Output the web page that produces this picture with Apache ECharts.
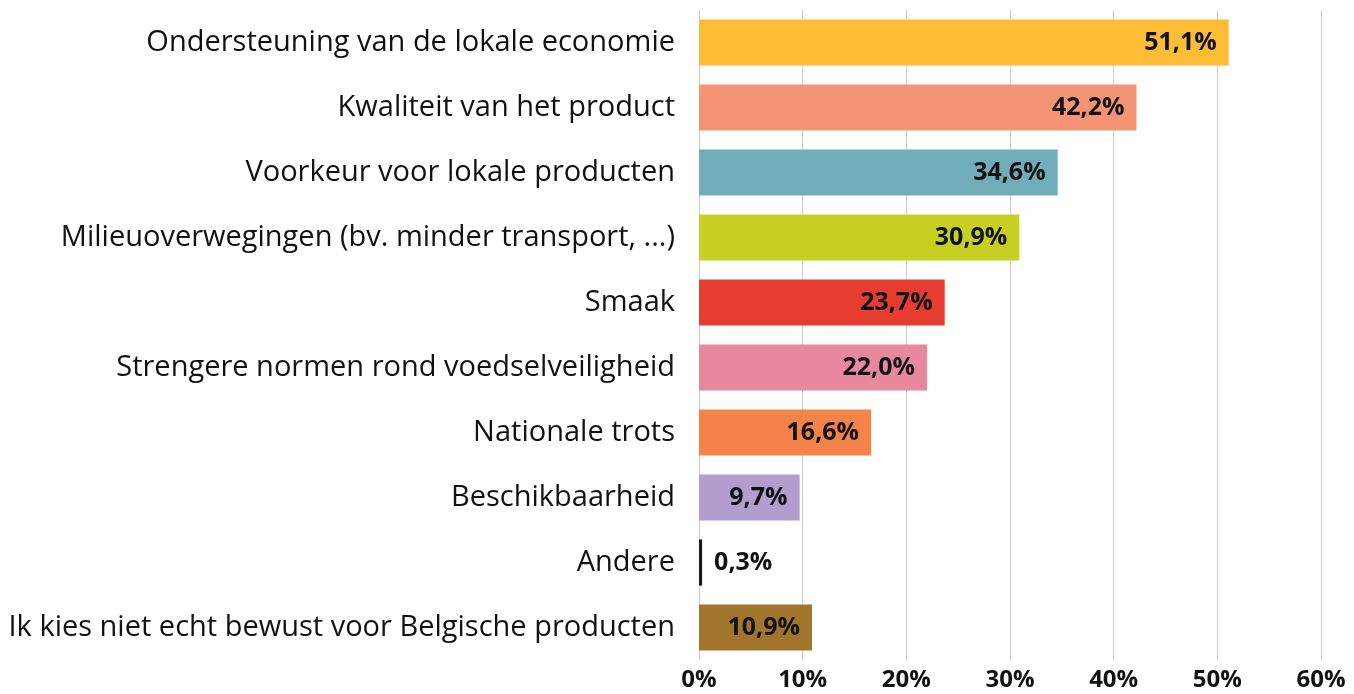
<!DOCTYPE html>
<html>
<head>
<meta charset="utf-8">
<script src="https://cdn.jsdelivr.net/npm/echarts@6/dist/echarts.min.js"></script>
<style>
  html, body { margin: 0; padding: 0; background: #fff; }
  #chart { width: 1354px; height: 694px; }
</style>
</head>
<body>
<div id="chart"></div>
<script>
// categories top to bottom
const categories = [
  'Ondersteuning van de lokale economie',
  'Kwaliteit van het product',
  'Voorkeur voor lokale producten',
  'Milieuoverwegingen (bv. minder transport, ...)',
  'Smaak',
  'Strengere normen rond voedselveiligheid',
  'Nationale trots',
  'Beschikbaarheid',
  'Andere',
  'Ik kies niet echt bewust voor Belgische producten'
];
const values = [51.1, 42.2, 34.6, 30.9, 23.7, 22.0, 16.6, 9.7, 0.3, 10.9];
const barColors = ['#FDBC36', '#F59474', '#70ADB9', '#C7CF23', '#E63D30', '#E8889F', '#F4834A', '#B19ECF', '#1A1A1A', '#A1752C'];
const xTicks = [0, 10, 20, 30, 40, 50, 60];

const fontFam = '"Open Sans", sans-serif';
const fmt = v => v.toFixed(1).replace('.', ',') + '%';

const chart = echarts.init(document.getElementById('chart'));

const data = values.map((v, i) => {
  const small = v < 3;
  return {
    value: v,
    itemStyle: { color: barColors[i] },
    label: {
      position: small ? 'right' : 'insideRight',
      distance: 12
    }
  };
});

chart.setOption({
  animation: false,
  grid: { left: 699, right: 33, top: 10, bottom: 34, containLabel: false },
  xAxis: {
    type: 'value',
    min: xTicks[0],
    max: xTicks[xTicks.length - 1],
    interval: 10,
    axisLine: { show: false },
    axisTick: { show: false },
    splitLine: { show: true, lineStyle: { color: '#cccccc', width: 1 } },
    axisLabel: {
      formatter: v => v + '%',
      color: '#111',
      fontFamily: fontFam,
      fontWeight: 'bold',
      fontSize: 24,
      margin: 8
    }
  },
  yAxis: {
    type: 'category',
    inverse: true,
    data: categories,
    axisLine: { show: false },
    axisTick: { show: false },
    axisLabel: {
      color: '#111',
      fontFamily: fontFam,
      fontSize: 29,
      margin: 24
    }
  },
  series: [{
    type: 'bar',
    data: data,
    barCategoryGap: '29%',
    label: {
      show: true,
      formatter: p => fmt(p.value),
      color: '#111',
      fontFamily: fontFam,
      fontWeight: 'bold',
      fontSize: 25
    }
  }]
});
</script>
</body>
</html>
